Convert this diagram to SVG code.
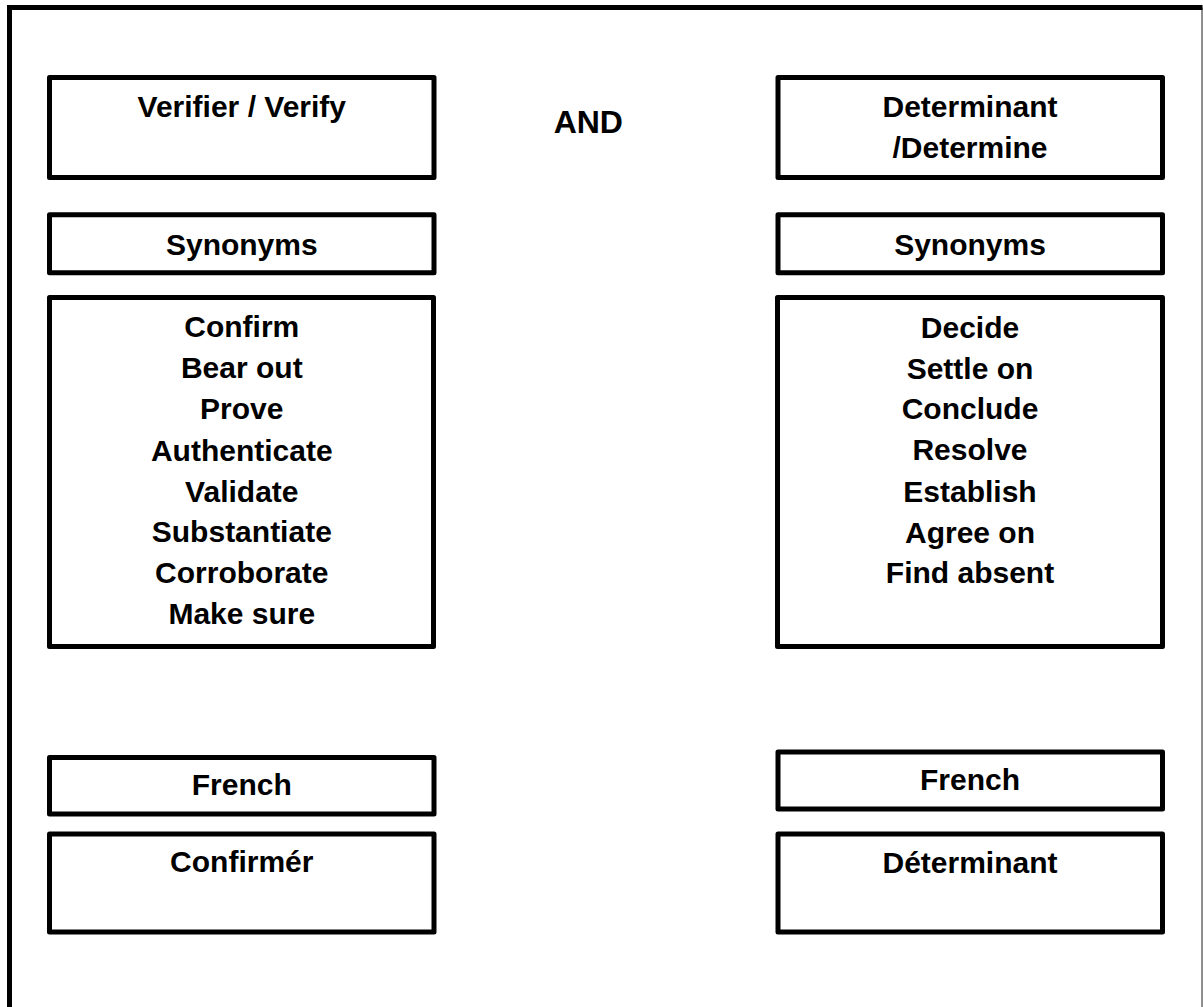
<svg xmlns="http://www.w3.org/2000/svg" width="1203" height="1007" viewBox="0 0 1203 1007">
<style>
.box{fill:#fff;stroke:#000;stroke-width:5;stroke-linejoin:round}
.t{font-family:"Liberation Sans",Arial,sans-serif;font-weight:bold;font-size:30px;fill:#000;text-anchor:middle}
.and{font-family:"Liberation Sans",Arial,sans-serif;font-weight:bold;font-size:32px;fill:#000;text-anchor:middle}
</style>
<rect x="0" y="0" width="1203" height="1007" fill="#fff"/>
<g id="frame">
<line x1="1202" y1="7.5" x2="1202" y2="1007" stroke="#444" stroke-width="1.2"/>
<path d="M9.5 1007 V7.5 H1202.5" fill="none" stroke="#000" stroke-width="5"/>
</g>
<g id="connectors"></g>
<g id="verify">
<rect class="box" x="49.5" y="77.5" width="384.5" height="100"/>
<text class="t" x="241.8" y="116.7">Verifier / Verify</text>
</g>
<g id="and">
<text class="and" x="588.3" y="132.7">AND</text>
</g>
<g id="determine">
<rect class="box" x="778" y="77.5" width="384.5" height="100"/>
<text class="t" x="970" y="116.7">Determinant</text>
<text class="t" x="970" y="158.3">/Determine</text>
</g>
<g id="syn-left">
<rect class="box" x="49.5" y="214.7" width="384.5" height="58"/>
<text class="t" x="241.8" y="255">Synonyms</text>
</g>
<g id="syn-right">
<rect class="box" x="778" y="214.7" width="384.5" height="58"/>
<text class="t" x="970" y="255">Synonyms</text>
</g>
<g id="list-left">
<rect class="box" x="49.5" y="297.5" width="384" height="349"/>
<text class="t" x="241.8" y="336.7">Confirm</text>
<text class="t" x="241.8" y="378.3">Bear out</text>
<text class="t" x="241.8" y="419.3">Prove</text>
<text class="t" x="241.8" y="460.7">Authenticate</text>
<text class="t" x="241.8" y="501.7">Validate</text>
<text class="t" x="241.8" y="542.3">Substantiate</text>
<text class="t" x="241.8" y="583.3">Corroborate</text>
<text class="t" x="241.8" y="624.3">Make sure</text>
</g>
<g id="list-right">
<rect class="box" x="777.5" y="297.5" width="385" height="349"/>
<text class="t" x="970" y="338.3">Decide</text>
<text class="t" x="970" y="379.3">Settle on</text>
<text class="t" x="970" y="419.3">Conclude</text>
<text class="t" x="970" y="460">Resolve</text>
<text class="t" x="970" y="501.7">Establish</text>
<text class="t" x="970" y="542.7">Agree on</text>
<text class="t" x="970" y="583.3">Find absent</text>
</g>
<g id="french-left">
<rect class="box" x="49.5" y="757.5" width="384.5" height="56.5"/>
<text class="t" x="241.8" y="795">French</text>
</g>
<g id="french-right">
<rect class="box" x="778" y="752" width="384.5" height="57"/>
<text class="t" x="970" y="790">French</text>
</g>
<g id="confirmer">
<rect class="box" x="49.5" y="834" width="384.5" height="98"/>
<text class="t" x="241.8" y="871.7">Confirmér</text>
</g>
<g id="determinant-fr">
<rect class="box" x="778" y="834" width="384.5" height="98"/>
<text class="t" x="970" y="873.3">Déterminant</text>
</g>
</svg>
